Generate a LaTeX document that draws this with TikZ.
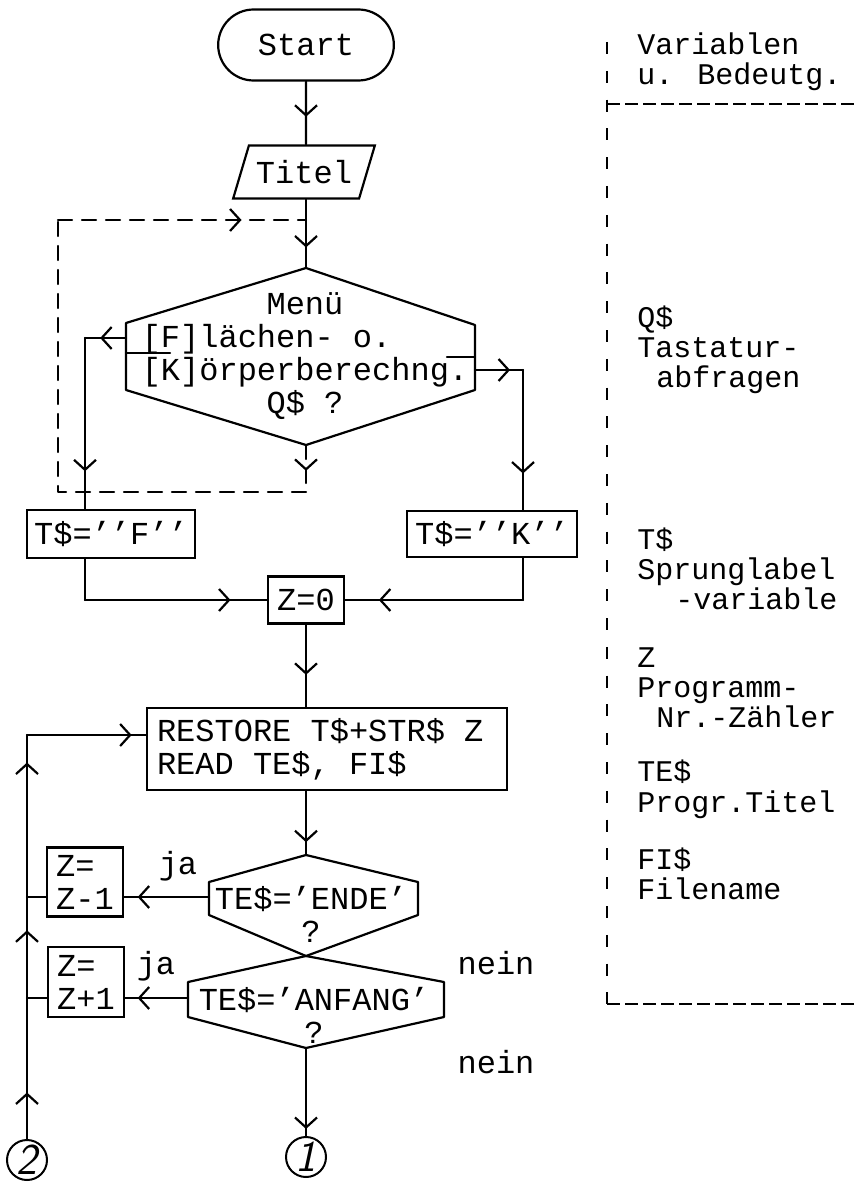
\documentclass[tikz,border=0pt]{standalone}
\usepackage{fontspec}
\newfontfamily\dotfont{Liberation Mono}
\usetikzlibrary{arrows.meta, decorations.markings, shapes.misc, shapes.geometric}

\tikzset{
    every node/.style={font=\dotfont\fontsize{16}{16.5}\selectfont,
        execute at begin node={\spaceskip=0pt\xspaceskip=0pt}},
    flow/.style={line width=1.1pt, line cap=round, line join=round},
    loopback/.style={flow, dash pattern=on 7pt off 5pt},
    tipat/.style={postaction={decorate}, decoration={markings,
        mark=at position #1 with {\arrow{Straight Barb[length=5pt, width=11pt, line width=1.1pt]}}}},
    box/.style={draw, line width=1.1pt, rectangle, inner sep=0pt},
    tag/.style={inner sep=0pt, text height=10pt, text depth=2.5pt},
    sidetext/.style={tag, anchor=west, font=\dotfont\fontsize{15}{15}\selectfont},
    sidebar/.style={line width=0.8pt, dash pattern=on 6pt off 8.4pt},
    sideline/.style={line width=0.8pt, dash pattern=on 6.5pt off 2.5pt},
    numcircle/.style={draw, circle, line width=1pt, minimum size=20pt, inner sep=0pt,
        font=\sffamily\itshape\fontsize{22}{22}\selectfont},
}

\begin{document}
\begin{tikzpicture}[x=0.5pt, y=-0.5pt]
    \useasboundingbox (0,0) rectangle (855,1182);

    % Start and title
    \node[rounded rectangle, draw, line width=1.1pt, minimum width=94.5pt, minimum height=35.5pt] (start) at (306,45) {Start};
    \node[trapezium, draw, line width=1.1pt, trapezium left angle=67, trapezium right angle=113,
          trapezium stretches=true, minimum width=71pt, minimum height=26.5pt] (titel) at (304,172) {Titel};

    % Menu decision
    \draw[flow] (306,268) coordinate (mtop) -- (475,325) -- (475,390) -- (306,445) coordinate (mbot)
        -- (126,390) -- (126,323) -- cycle;
    \node[align=center] (menu) at (305,356) {Menü\\{}[F]lächen- o.\phantom{0000}\\{}[K]örperberechng.\\Q\$ ?};
    \draw[flow] (126,353) -- (170,353);
    \draw[flow] (447,357) -- (475,357);
    \coordinate (fexit) at (126,338);
    \coordinate (fbend) at (85,338);
    \coordinate (kexit) at (475,370);
    \coordinate (kbend) at (523,370);

    % Jump label boxes and counter
    \node[box, minimum width=84pt, minimum height=24pt] (tf) at (111,534) {T\$=’’F’’};
    \node[box, minimum width=85pt, minimum height=23pt] (tk) at (492,534) {T\$=’’K’’};
    \node[box, minimum width=38pt, minimum height=23.5pt] (z0) at (306,600) {Z=0};
    \node[box, minimum width=180pt, minimum height=41pt, text width=170pt, align=left, inner xsep=5pt]
        (restore) at (327,749) {RESTORE T\$+STR\$ Z\\READ TE\$, FI\$};

    % End / start checks
    \draw[flow] (306,855) coordinate (etop) -- (418,882) -- (418,915) -- (306,956) coordinate (ebot)
        -- (209,915) -- (209,882) -- cycle;
    \node[align=center] (ende) at (311,914) {TE\$=’ENDE’\\?};
    \coordinate (eleft) at (209,897);
    \draw[flow] (ebot) -- (444,982) -- (444,1017) -- (306,1048) coordinate (abot)
        -- (188,1017) -- (188,982) -- cycle;
    \node[align=center] (anfang) at (314,1015) {TE\$=’ANFANG’\\?};
    \coordinate (aleft) at (188,998);

    \node[box, minimum width=38pt, minimum height=34.5pt, align=left] (zminus) at (85,882) {Z=\\Z-1};
    \node[box, minimum width=38pt, minimum height=35pt, align=left] (zplus) at (86,982) {Z=\\Z+1};

    \node[tag] (ja1) at (178,867) {ja};
    \node[tag] (ja2) at (156,967) {ja};
    \node[tag] (nein1) at (496,967) {nein};
    \node[tag] (nein2) at (496,1066) {nein};

    \node[numcircle] (c1) at (306,1157) {1};
    \node[numcircle] (c2) at (27,1160) {2};
    \coordinate (j1) at (27,998);
    \coordinate (j2) at (27,897);
    \coordinate (rbend) at (27,735);

    % Connectors
    \draw[flow, tipat=0.56] (start) -- (start |- titel.north);
    \draw[flow, tipat=0.7] (start |- titel.south) -- (mtop);
    \draw[flow, tipat=0.63] (fexit) -- (fbend);
    \draw[flow, tipat=0.78] (fbend) -- (fbend |- tf.north);
    \draw[flow, tipat=0.73] (kexit) -- (kbend);
    \draw[flow, tipat=0.74] (kbend) -- (kbend |- tk.north);
    \draw[flow] (fbend |- tf.south) -- (fbend |- z0.west);
    \draw[flow, tipat=0.8] (fbend |- z0.west) -- (z0.west);
    \draw[flow] (kbend |- tk.south) -- (kbend |- z0.east);
    \draw[flow, tipat=0.81] (kbend |- z0.east) -- (z0.east);
    \draw[flow, tipat=0.61] (z0.south) -- (z0.south |- restore.north);
    \draw[flow, tipat=0.8] (z0.south |- restore.south) -- (etop);
    \draw[flow, tipat=0.84] (eleft) -- (eleft -| zminus.east);
    \draw[flow, tipat=0.8] (aleft) -- (aleft -| zplus.east);
    \draw[flow, tipat=0.92] (abot) -- (c1);

    % Loop back to RESTORE
    \draw[flow, tipat=0.33] (c2) -- (j1);
    \draw[flow, tipat=0.67] (j1) -- (j2);
    \draw[flow, tipat=0.83] (j2) -- (rbend);
    \draw[flow, tipat=0.88] (rbend) -- (rbend -| restore.west);
    \draw[flow] (zminus.west |- eleft) -- (j2);
    \draw[flow] (zplus.west |- aleft) -- (j1);

    % Dashed return to the menu
    \coordinate (dbot) at (306,492);
    \coordinate (dleft) at (58,492);
    \coordinate (dtop) at (58,220);
    \coordinate (join) at (306,220);
    \draw[loopback, tipat=0.55] (mbot) -- (dbot);
    \draw[loopback] (dbot) -- (dleft) -- (dtop);
    \draw[loopback, tipat=0.74] (dtop) -- (join);

    % Variable list
    \draw[sidebar] (607,42) -- (607,1004);
    \draw[sideline] (607,104) -- (855,104);
    \draw[sideline] (607,1004) -- (855,1004);
    \foreach \x/\y/\txt in {637/47/Variablen, 637/77/{u. Bedeutg.},
            637/320/Q\$, 637/350/Tastatur-, 656/380/abfragen,
            637/542/T\$, 637/572/Sprunglabel, 675/602/-variable,
            637/660/Z, 637/690/Programm-, 656/720/Nr.-Zähler,
            637/774/TE\$, 637/805/Progr.Titel,
            637/862/FI\$, 637/892/Filename}
        \node[sidetext] (var\y) at (\x,\y) {\txt};

\end{tikzpicture}
\end{document}
